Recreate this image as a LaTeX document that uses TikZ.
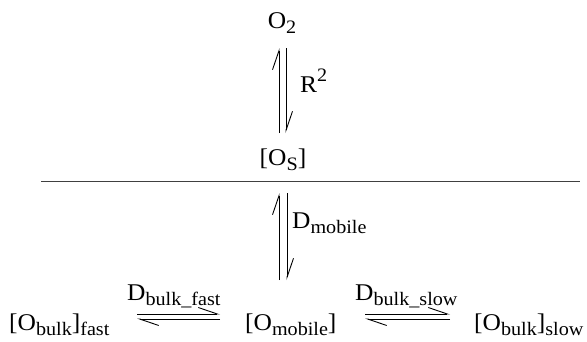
\documentclass[tikz,border=0pt]{standalone}
\usepackage{fontspec}
\setmainfont{Liberation Serif}
\usetikzlibrary{arrows.meta,calc}
\newcommand\sbx[1]{\raisebox{-5pt}{\fontsize{19}{19}\selectfont #1}}
\newcommand\spx[1]{\raisebox{11pt}{\fontsize{19}{19}\selectfont #1}}
\newcommand\wide[1]{\scalebox{1.06}[1]{#1}}
\begin{document}
\begin{tikzpicture}[x=1pt,y=-1pt,
  lbl/.style={inner sep=0pt, font=\fontsize{24}{28}\selectfont},
  hp/.style={line width=0.9pt, -{Straight Barb[left,length=19pt,width=13pt,line width=0.9pt]}},
  sepline/.style={line width=0.9pt, draw=black!75}]
\useasboundingbox (0,0) rectangle (587,341);
\node[lbl, anchor=base] (o2) at (282,28) {\wide{O\sbx{2}}};
\node[lbl, anchor=base west] (r2) at (300,92) {\wide{R\spx{2}}};
\node[lbl, anchor=base] (os) at (283,165) {\wide{[O\sbx{S}]}};
\coordinate (sl) at (41,181);
\coordinate (sr) at (580,181);
\draw[sepline] (sl) -- (sr);
\node[lbl, anchor=base west] (dm) at (292,228) {\wide{D\sbx{mobile}}};
\node[lbl, anchor=base west] (fast) at (9,330) {\wide{[O\sbx{bulk}]\sbx{fast}}};
\node[lbl, anchor=base west] (mob) at (245,330) {\wide{[O\sbx{mobile}]}};
\node[lbl, anchor=base west] (slow) at (474,330) {\wide{[O\sbx{bulk}]\sbx{slow}}};
\node[lbl, anchor=base west] (dbf) at (127,300) {\wide{D\sbx{bulk\_fast}}};
\node[lbl, anchor=base west] (dbs) at (355,300) {\wide{D\sbx{bulk\_slow}}};
% upper equilibrium
\draw[hp] ($(os.base)+(-4,-32)$) -- ($(o2.base)+(-3,20)$);
\draw[hp] ($(o2.base)+(4,20)$) -- ($(os.base)+(3,-32)$);
% lower vertical equilibrium
\draw[hp] ($(mob.base west)+(34,-50)$) -- ($(os.base)+(-4,28)$);
\draw[hp] ($(os.base)+(4,28)$) -- ($(mob.base west)+(42,-50)$);
% horizontal equilibria
\draw[hp] ($(fast.base west)+(128,-16)$) -- ($(mob.base west)+(-25,-16)$);
\draw[hp] ($(mob.base west)+(-25,-11)$) -- ($(fast.base west)+(128,-11)$);
\draw[hp] ($(mob.base west)+(120,-16)$) -- ($(slow.base west)+(-24,-16)$);
\draw[hp] ($(slow.base west)+(-24,-11)$) -- ($(mob.base west)+(120,-11)$);
\end{tikzpicture}
\end{document}
